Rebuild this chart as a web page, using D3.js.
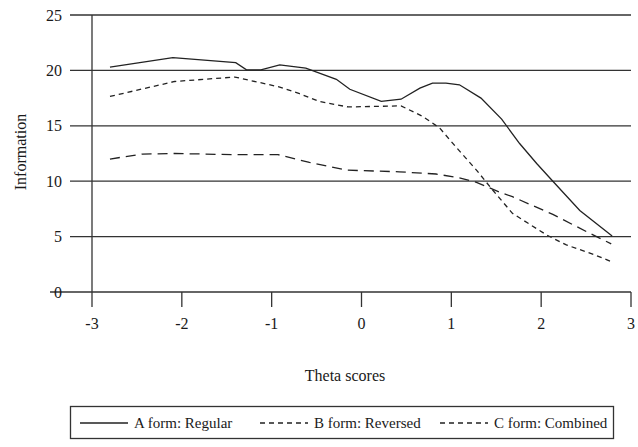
<!DOCTYPE html>
<html lang="en">
<head>
  <meta charset="UTF-8">
  <title>Information by theta</title>
  <script src="https://d3js.org/d3.v7.min.js"></script>
  <style>
    body {
      margin: 0;
      background: #fff;
    }
    svg text {
      font-family: 'Liberation Serif', 'Times New Roman', serif;
      fill: #1a1a1a;
    }
  </style>
</head>
<body>
  <script>
    // values
    var thetaA = [-2.8, -2.1, -1.4, -1.28, -1.12, -0.91, -0.62, -0.28, -0.13, 0.22, 0.44, 0.65, 0.79, 0.94, 1.09, 1.33, 1.56, 1.76, 1.95, 2.13, 2.43, 2.79];
    var infoA = [20.3, 21.15, 20.7, 20.05, 20.05, 20.5, 20.2, 19.2, 18.3, 17.2, 17.4, 18.4, 18.85, 18.85, 18.7, 17.5, 15.6, 13.4, 11.6, 10.0, 7.35, 5.05];

    var thetaB = [-2.8, -2.08, -1.41, -0.91, -0.69, -0.47, -0.15, 0.44, 0.68, 0.87, 1.05, 1.28, 1.44, 1.68, 2.06, 2.28, 2.58, 2.78];
    var infoB = [17.65, 19.0, 19.4, 18.5, 17.9, 17.2, 16.7, 16.8, 15.85, 14.8, 13.1, 11.0, 9.4, 7.1, 5.15, 4.25, 3.4, 2.75];

    var thetaC = [-2.8, -2.44, -2.08, -1.43, -0.93, -0.58, -0.17, 0.42, 0.83, 1.09, 1.28, 1.54, 1.68, 2.13, 2.54, 2.78];
    var infoC = [12.0, 12.45, 12.5, 12.4, 12.4, 11.7, 11.0, 10.85, 10.65, 10.3, 9.9, 9.0, 8.6, 7.0, 5.3, 4.35];

    var seriesNames = ["A form: Regular", "B form: Reversed", "C form: Combined"];
    var xTicks = [-3, -2, -1, 0, 1, 2, 3];
    var yTicks = [0, 5, 10, 15, 20, 25];

    var width = 638, height = 447;
    var svg = d3.select('body').append('svg')
      .attr('width', width)
      .attr('height', height);

    svg.append('rect').attr('width', width).attr('height', height).attr('fill', '#fff');

    var x = d3.scaleLinear().domain([-3, 3]).range([92, 631]);
    var y = d3.scaleLinear().domain([0, 25]).range([292, 15]);

    // horizontal gridlines with left tick stubs
    svg.selectAll('.grid')
      .data(yTicks)
      .join('line')
      .attr('class', 'grid')
      .attr('x1', d => d === 0 ? 50 : 70)
      .attr('x2', x(3))
      .attr('y1', d => y(d))
      .attr('y2', d => y(d))
      .attr('stroke', '#333')
      .attr('stroke-width', 1.3);

    svg.selectAll('.ylab')
      .data(yTicks)
      .join('text')
      .attr('class', 'ylab')
      .attr('x', 62)
      .attr('y', d => y(d) + 5.5)
      .attr('text-anchor', 'end')
      .attr('font-size', 16)
      .text(d => d);

    // y axis line
    svg.append('line')
      .attr('x1', x(-3)).attr('x2', x(-3))
      .attr('y1', y(25)).attr('y2', y(0) + 15)
      .attr('stroke', '#333')
      .attr('stroke-width', 1.3);

    // x ticks
    svg.selectAll('.xtick')
      .data(xTicks.slice(1))
      .join('line')
      .attr('class', 'xtick')
      .attr('x1', d => x(d)).attr('x2', d => x(d))
      .attr('y1', y(0)).attr('y2', y(0) + 15)
      .attr('stroke', '#333')
      .attr('stroke-width', 1.3);

    svg.selectAll('.xlab')
      .data(xTicks)
      .join('text')
      .attr('class', 'xlab')
      .attr('x', d => x(d))
      .attr('y', y(0) + 37)
      .attr('text-anchor', 'middle')
      .attr('font-size', 16)
      .text(d => d);

    svg.append('text')
      .attr('x', 345)
      .attr('y', 381)
      .attr('text-anchor', 'middle')
      .attr('font-size', 16)
      .text('Theta scores');

    svg.append('text')
      .attr('transform', 'translate(26,152) rotate(-90)')
      .attr('text-anchor', 'middle')
      .attr('font-size', 16)
      .text('Information');

    var series = [
      { name: seriesNames[0], theta: thetaA, info: infoA, dash: null },
      { name: seriesNames[1], theta: thetaB, info: infoB, dash: '5,4' },
      { name: seriesNames[2], theta: thetaC, info: infoC, dash: '10,6' }
    ];

    var line = d3.line()
      .x(d => x(d[0]))
      .y(d => y(d[1]));

    svg.selectAll('.series')
      .data(series)
      .join('path')
      .attr('class', 'series')
      .attr('d', s => line(d3.zip(s.theta, s.info)))
      .attr('fill', 'none')
      .attr('stroke', '#222')
      .attr('stroke-width', 1.3)
      .attr('stroke-dasharray', s => s.dash);

    // legend
    var lg = svg.append('g');
    lg.append('rect')
      .attr('x', 70.5).attr('y', 406.5)
      .attr('width', 543).attr('height', 32)
      .attr('fill', '#fff')
      .attr('stroke', '#333')
      .attr('stroke-width', 1.3);

    var legX = [80, 260, 440];
    series.forEach(function(s, i) {
      lg.append('line')
        .attr('x1', legX[i]).attr('x2', legX[i] + 48)
        .attr('y1', 423).attr('y2', 423)
        .attr('stroke', '#222')
        .attr('stroke-width', 1.3)
        .attr('stroke-dasharray', i === 0 ? null : '5,4');
      lg.append('text')
        .attr('x', legX[i] + 54)
        .attr('y', 428)
        .attr('font-size', 15)
        .text(s.name);
    });
  </script>
</body>
</html>
